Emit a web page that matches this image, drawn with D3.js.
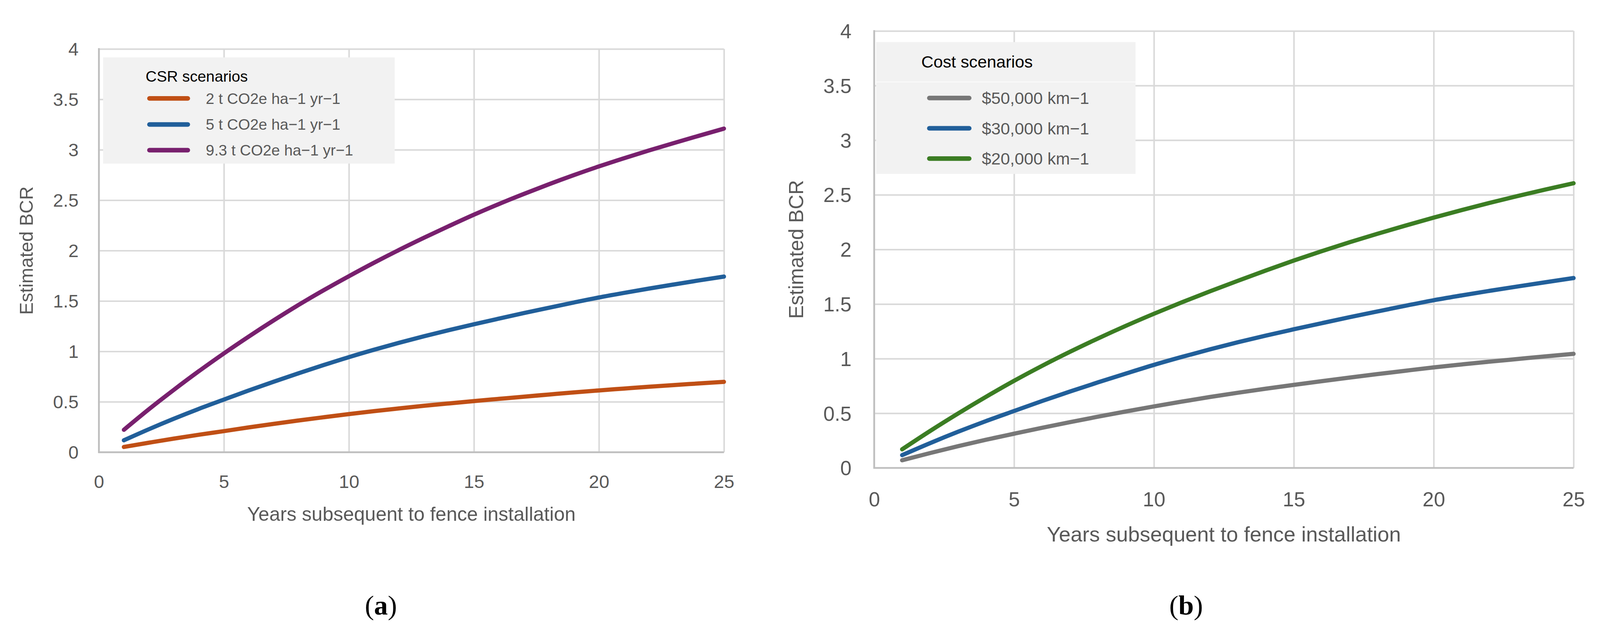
<!DOCTYPE html>
<html>
<head>
<meta charset="utf-8">
<script src="https://cdn.jsdelivr.net/npm/d3@7"></script>
<style>
  html, body { margin: 0; padding: 0; background: #fff; overflow: hidden; }
  svg { display: block; }
  text { font-family: "Liberation Sans", Arial, sans-serif; }
</style>
</head>
<body>
<script>
// Values (estimated BCR per year after fence installation)
var years = [1, 2, 3, 4, 5, 6, 7, 8, 9, 10, 11, 12, 13, 14, 15, 16, 17, 18, 19, 20, 21, 22, 23, 24, 25];

var xTicks = [0, 5, 10, 15, 20, 25];
var yTicks = [0, 0.5, 1, 1.5, 2, 2.5, 3, 3.5, 4];

// panel (a): CSR scenarios
var csrLabels = ["2 t CO2e ha\u22121 yr\u22121", "5 t CO2e ha\u22121 yr\u22121", "9.3 t CO2e ha\u22121 yr\u22121"];
var csrColors = ["#c04f15", "#215f9a", "#78206e"];
var csr2 = [0.052, 0.094, 0.135, 0.173, 0.209, 0.246, 0.281, 0.315, 0.347, 0.378, 0.407, 0.434, 0.460, 0.484, 0.507, 0.529, 0.551, 0.572, 0.593, 0.613, 0.631, 0.649, 0.666, 0.682, 0.698];
var csr5 = [0.118, 0.228, 0.332, 0.430, 0.522, 0.613, 0.700, 0.784, 0.865, 0.943, 1.016, 1.085, 1.150, 1.211, 1.269, 1.325, 1.380, 1.433, 1.485, 1.535, 1.580, 1.623, 1.664, 1.704, 1.742];
var csr93 = [0.222, 0.426, 0.619, 0.804, 0.980, 1.148, 1.309, 1.463, 1.608, 1.746, 1.879, 2.006, 2.127, 2.243, 2.356, 2.462, 2.562, 2.658, 2.749, 2.835, 2.916, 2.993, 3.067, 3.139, 3.210];

// panel (b): cost scenarios
var costLabels = ["$50,000 km\u22121", "$30,000 km\u22121", "$20,000 km\u22121"];
var costColors = ["#777777", "#215f9a", "#3b7d23"];
var cost50 = [0.070, 0.136, 0.199, 0.258, 0.313, 0.367, 0.419, 0.469, 0.517, 0.563, 0.607, 0.649, 0.688, 0.725, 0.760, 0.794, 0.827, 0.859, 0.890, 0.920, 0.947, 0.973, 0.997, 1.021, 1.044];
var cost30 = [0.117, 0.227, 0.331, 0.429, 0.521, 0.612, 0.699, 0.783, 0.864, 0.943, 1.016, 1.085, 1.150, 1.211, 1.269, 1.325, 1.380, 1.433, 1.485, 1.535, 1.579, 1.621, 1.661, 1.700, 1.738];
var cost20 = [0.170, 0.338, 0.498, 0.651, 0.797, 0.934, 1.063, 1.185, 1.301, 1.411, 1.516, 1.616, 1.713, 1.807, 1.898, 1.984, 2.066, 2.144, 2.219, 2.291, 2.360, 2.426, 2.489, 2.549, 2.606];

// the drawing is laid out in 4175 x 1633 units and scaled to the window
var svg = d3.select("body").append("svg")
    .attr("viewBox", "0 0 4175 1633")
    .attr("preserveAspectRatio", "xMidYMid meet")
    .style("width", "100vw")
    .style("height", "100vh");

svg.append("rect").attr("width", 4175).attr("height", 1633).attr("fill", "#fff");

// Draws one panel: gridlines, axes, legend box and the three curves
function drawPanel(p) {
  var x = d3.scaleLinear().domain([0, 25]).range([p.left, p.right]);
  var y = d3.scaleLinear().domain([0, 4]).range([p.bottom, p.top]);
  var g = svg.append("g");

  // y axis with gridlines
  var yAxis = g.append("g")
      .attr("transform", "translate(" + p.left + ",0)")
      .call(d3.axisLeft(y)
        .tickValues(yTicks)
        .tickFormat(function(d) { return String(d); })
        .tickSize(-(p.right - p.left))
        .tickPadding(p.yPad));
  yAxis.select(".domain").remove();
  yAxis.selectAll(".tick line").attr("stroke", "#d9d9d9").attr("stroke-width", 4);
  yAxis.selectAll(".tick text")
      .attr("fill", "#595959")
      .style("font-size", p.tickSize + "px")
      .attr("dy", "0.35em");

  // x axis with gridlines
  var xAxis = g.append("g")
      .attr("transform", "translate(0," + p.bottom + ")")
      .call(d3.axisBottom(x)
        .tickValues(xTicks)
        .tickSize(-(p.bottom - p.top)));
  xAxis.select(".domain").remove();
  xAxis.selectAll(".tick line").attr("stroke", "#d9d9d9").attr("stroke-width", 4);
  xAxis.selectAll(".tick text")
      .attr("fill", "#595959")
      .style("font-size", p.tickSize + "px")
      .attr("y", p.xLabelY)
      .attr("dy", 0);

  // axis lines
  g.append("line")
      .attr("x1", x(0)).attr("x2", x(0))
      .attr("y1", y(4) - 2).attr("y2", y(0) + 2)
      .attr("stroke", "#bfbfbf").attr("stroke-width", 4.5);
  g.append("line")
      .attr("x1", x(0) - 2).attr("x2", x(25))
      .attr("y1", y(0)).attr("y2", y(0))
      .attr("stroke", "#bfbfbf").attr("stroke-width", 4.5);

  // axis titles
  g.append("text")
      .attr("x", (p.left + p.right) / 2)
      .attr("y", p.bottom + p.xTitleY)
      .attr("text-anchor", "middle")
      .attr("fill", "#595959")
      .style("font-size", p.titleSize + "px")
      .text("Years subsequent to fence installation");

  g.append("text")
      .attr("transform", "translate(" + p.yTitleX + "," + (p.top + p.bottom) / 2 + ") rotate(-90)")
      .attr("text-anchor", "middle")
      .attr("fill", "#595959")
      .style("font-size", p.yTitleSize + "px")
      .text("Estimated BCR");

  // legend
  var lg = p.legend;
  g.append("rect")
      .attr("x", lg.x).attr("y", lg.y)
      .attr("width", lg.w).attr("height", lg.h)
      .attr("fill", "#f2f2f2");
  if (lg.split) {
    g.append("line")
        .attr("x1", lg.x).attr("x2", lg.x + lg.w)
        .attr("y1", lg.split).attr("y2", lg.split)
        .attr("stroke", "#fff").attr("stroke-width", 1.5);
  }
  g.append("text")
      .attr("x", lg.titleX).attr("y", lg.titleY)
      .attr("fill", "#000")
      .style("font-size", lg.titleSize + "px")
      .text(p.legendTitle);

  var items = g.selectAll(".item").data(p.labels).enter().append("g").attr("class", "item");
  items.append("line")
      .attr("x1", lg.lineX1).attr("x2", lg.lineX2)
      .attr("y1", function(d, i) { return lg.rowY[i]; })
      .attr("y2", function(d, i) { return lg.rowY[i]; })
      .attr("stroke", function(d, i) { return p.colors[i]; })
      .attr("stroke-width", 12)
      .attr("stroke-linecap", "round");
  items.append("text")
      .attr("x", lg.textX)
      .attr("y", function(d, i) { return lg.rowY[i]; })
      .attr("dy", "0.35em")
      .attr("fill", "#595959")
      .style("font-size", lg.textSize + "px")
      .text(function(d) { return d; });

  // curves
  var line = d3.line()
      .x(function(d, i) { return x(years[i]); })
      .y(function(d) { return y(d); })
      .curve(d3.curveMonotoneX);

  g.selectAll(".series").data(p.series).enter().append("path")
      .attr("class", "series")
      .attr("d", line)
      .attr("fill", "none")
      .attr("stroke", function(d, i) { return p.colors[i]; })
      .attr("stroke-width", 11)
      .attr("stroke-linecap", "round")
      .attr("stroke-linejoin", "round");

  // caption
  var cap = g.append("text")
      .attr("x", p.capX).attr("y", 1588)
      .attr("text-anchor", "middle")
      .attr("fill", "#000")
      .style("font-family", "'Liberation Serif', 'Times New Roman', serif")
      .style("font-size", "72px");
  cap.append("tspan").text("(");
  cap.append("tspan").style("font-weight", "bold").text(p.capLetter);
  cap.append("tspan").text(")");
}

drawPanel({
  left: 258, right: 1889, top: 112, bottom: 1164,
  yPad: 53, tickSize: 48, xLabelY: 93,
  titleSize: 51, xTitleY: 179,
  yTitleX: 86, yTitleSize: 49,
  legendTitle: "CSR scenarios",
  labels: csrLabels, colors: csrColors, series: [csr2, csr5, csr93],
  legend: {
    x: 269, y: 134, w: 761, h: 277,
    titleX: 380, titleY: 197, titleSize: 40,
    lineX1: 390, lineX2: 490, rowY: [241, 309, 376],
    textX: 537, textSize: 40
  },
  capX: 994, capLetter: "a"
});

drawPanel({
  left: 2281, right: 4106, top: 65, bottom: 1205,
  yPad: 59, tickSize: 53, xLabelY: 100,
  titleSize: 55, xTitleY: 192,
  yTitleX: 2096, yTitleSize: 53,
  legendTitle: "Cost scenarios",
  labels: costLabels, colors: costColors, series: [cost50, cost30, cost20],
  legend: {
    x: 2286, y: 94, w: 677, h: 344, split: 198,
    titleX: 2404, titleY: 161, titleSize: 44,
    lineX1: 2425, lineX2: 2529, rowY: [240, 319, 398],
    textX: 2562, textSize: 44
  },
  capX: 3095, capLetter: "b"
});
</script>
</body>
</html>
